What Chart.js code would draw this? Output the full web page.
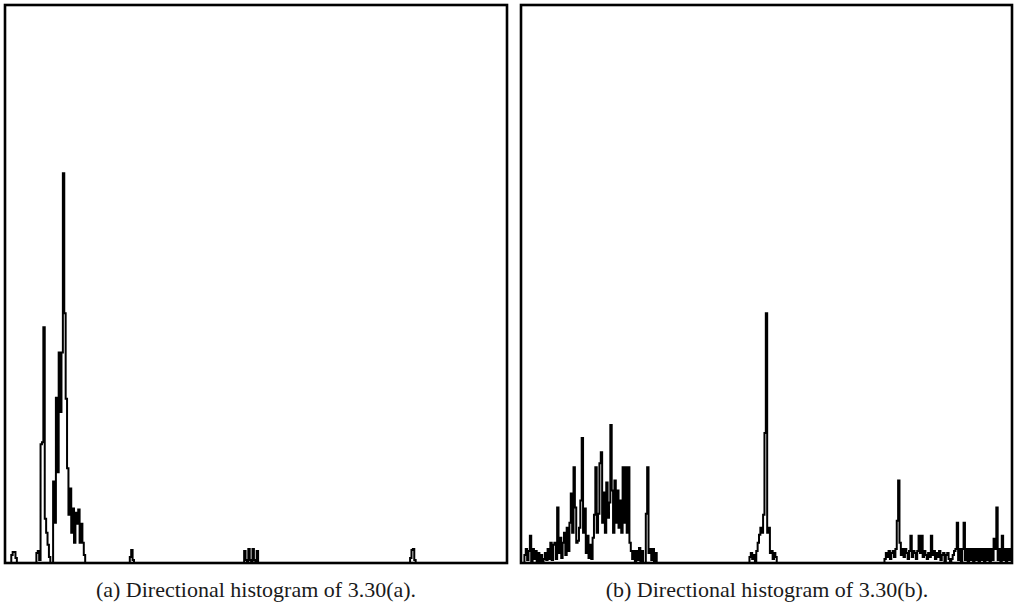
<!DOCTYPE html>
<html>
<head>
<meta charset="utf-8">
<script src="https://cdn.jsdelivr.net/npm/chart.js@4/dist/chart.umd.min.js"></script>
<style>
  html, body { margin: 0; padding: 0; background: #fff; }
  body { width: 1016px; height: 610px; position: relative; overflow: hidden; }
  .panel { position: absolute; top: 3px; }
  .cap { position: absolute; top: 577px; font-family: "Liberation Serif", "DejaVu Serif", serif;
         font-size: 22px; color: #1a1a1a; white-space: nowrap; text-align: center; }
</style>
</head>
<body>
<div class="panel" style="left:3px;width:506px;height:562px"><canvas id="cA" width="506" height="562"></canvas></div>
<div class="panel" style="left:519px;width:495px;height:562px"><canvas id="cB" width="495" height="562"></canvas></div>
<div class="cap" id="capA" style="left:6px;width:500px"></div>
<div class="cap" id="capB" style="left:522px;width:490px"></div>
<script>
// Direction axis: 0..360 degrees (one bin per degree); counts on the vertical axis.
const angleMin = 0;
const angleMax = 360;
const countMax = 554;

const captionA = "(a) Directional histogram of 3.30(a).";
const captionB = "(b) Directional histogram of 3.30(b).";

// Histogram (a): runs of consecutive bins, each starting at the given angle
const leftStarts = [4, 22, 89, 171, 290];
const leftRun1 = [0, 8, 11, 11, 5, 0];
const leftRun2 = [0, 10, 12, 3, 118, 120, 234, 44, 30, 18, 6, 0, 0, 81, 40, 164, 90, 209, 150, 209,
                  387, 248, 163, 94, 48, 74, 30, 54, 20, 50, 39, 53, 20, 39, 20, 8, 0];
const leftRun3 = [0, 6, 13, 3, 0];
const leftRun4 = [0, 12, 3, 0, 14, 3, 0, 14, 3, 0, 12, 0];
const leftRun5 = [0, 5, 13, 14, 3, 0];

// Histogram (b)
const rightStarts = [2, 167, 266];
const rightRun1 = [0, 8, 14, 3, 12, 27, 2, 14, 4, 12, 2, 10, 2, 8, 0, 4, 10, 3, 14, 4,
                   20, 3, 18, 20, 4, 55, 10, 25, 5, 20, 30, 8, 35, 12, 40, 69, 30, 95, 55, 20,
                   22, 35, 62, 124, 30, 54, 10, 27, 5, 18, 4, 25, 48, 95, 30, 49, 99, 110, 40, 70,
                   30, 80, 45, 60, 137, 72, 30, 82, 40, 72, 35, 62, 30, 95, 40, 95, 30, 95, 20, 12,
                   4, 12, 0, 12, 3, 15, 2, 12, 0, 0, 49, 95, 10, 14, 3, 14, 2, 10, 0];
const rightRun2 = [0, 6, 10, 4, 8, 2, 12, 20, 28, 35, 30, 48, 129, 248, 30, 35, 10, 12, 4, 10, 6, 0];
const rightRun3 = [0, 4, 10, 6, 12, 4, 10, 12, 6, 14, 42, 82, 20, 8, 14, 6, 14, 10, 4, 12,
                   27, 6, 12, 10, 4, 12, 27, 10, 27, 6, 12, 8, 4, 10, 6, 27, 8, 12, 4, 10,
                   6, 12, 3, 8, 10, 2, 8, 10, 4, 0, 4, 8, 12, 14,
                   40, 3, 14, 2, 14, 40, 3, 14, 2, 14, 3, 14, 2, 14, 3, 14, 2, 14, 3, 14,
                   2, 14, 3, 14, 2, 14, 3, 24, 14, 55, 3, 14, 2, 27, 3, 14, 2, 14, 3, 14, 3];

function buildPoints(starts, runs) {
  const pts = [{x: angleMin, y: 0}];
  runs.forEach((run, r) => {
    run.forEach((v, i) => pts.push({x: starts[r] + i, y: v}));
  });
  const last = pts[pts.length - 1];
  if (last.x < angleMax) pts.push({x: angleMax, y: 0});
  return pts;
}

const framePlugin = {
  id: 'frame',
  afterDraw(chart) {
    const a = chart.chartArea, ctx = chart.ctx;
    ctx.save();
    ctx.strokeStyle = '#000';
    ctx.lineWidth = 2.6;
    ctx.strokeRect(a.left, a.top, a.right - a.left, a.bottom - a.top);
    ctx.restore();
  }
};

function makeChart(id, points) {
  return new Chart(document.getElementById(id), {
    type: 'line',
    data: {
      datasets: [{
        data: points,
        borderColor: '#000',
        borderWidth: 2,
        pointRadius: 0,
        stepped: 'middle',
        fill: false
      }]
    },
    options: {
      responsive: false,
      animation: false,
      devicePixelRatio: 1,
      layout: { padding: 2 },
      plugins: { legend: { display: false }, tooltip: { enabled: false } },
      scales: {
        x: { type: 'linear', min: angleMin, max: angleMax, display: false },
        y: { min: 0, max: countMax, display: false }
      }
    },
    plugins: [framePlugin]
  });
}

makeChart('cA', buildPoints(leftStarts, [leftRun1, leftRun2, leftRun3, leftRun4, leftRun5]));
makeChart('cB', buildPoints(rightStarts, [rightRun1, rightRun2, rightRun3]));
document.getElementById('capA').textContent = captionA;
document.getElementById('capB').textContent = captionB;
</script>
</body>
</html>
